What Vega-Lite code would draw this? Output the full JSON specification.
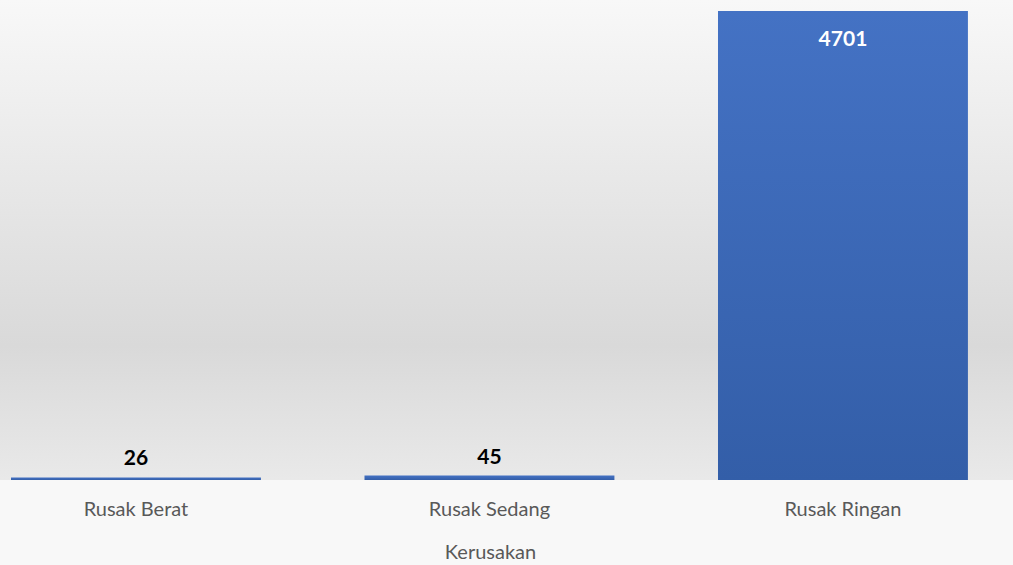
{
  "$schema": "https://vega.github.io/schema/vega-lite/v6.json",
  "width": 1013,
  "height": 480,
  "padding": {"left": 0, "top": 0, "right": 0, "bottom": 85},
  "autosize": {"type": "none"},
  "background": "#f8f8f8",
  "config": {
    "view": {"stroke": null},
    "font": "Lato"
  },
  "data": {
    "values": [
      {"Kerusakan": "Rusak Berat", "Jumlah": 26},
      {"Kerusakan": "Rusak Sedang", "Jumlah": 45},
      {"Kerusakan": "Rusak Ringan", "Jumlah": 4701}
    ]
  },
  "encoding": {
    "x": {
      "field": "Kerusakan",
      "type": "nominal",
      "sort": null,
      "scale": {"paddingInner": 0.293, "paddingOuter": 0.0793, "align": 0.196},
      "axis": {
        "domain": false,
        "ticks": false,
        "labelAngle": 0,
        "labelFont": "Lato",
        "labelFontSize": 20,
        "labelColor": "#595959",
        "labelPadding": 19,
        "title": "Kerusakan",
        "titleFont": "Lato",
        "titleFontSize": 20,
        "titleFontWeight": "normal",
        "titleColor": "#595959",
        "titlePadding": 23,
        "titleX": 490,
        "titleAlign": "center"
      }
    },
    "y": {
      "field": "Jumlah",
      "type": "quantitative",
      "scale": {"domain": [0, 4811], "nice": false},
      "axis": null
    }
  },
  "layer": [
    {
      "mark": {
        "type": "rect",
        "color": {
          "gradient": "linear",
          "x1": 0, "y1": 0, "x2": 0, "y2": 1,
          "stops": [
            {"offset": 0, "color": "#f8f8f8"},
            {"offset": 0.72, "color": "#d9d9d9"},
            {"offset": 1, "color": "#e9e9e9"}
          ]
        }
      },
      "encoding": {"x": null, "y": null}
    },
    {
      "mark": {
        "type": "bar",
        "color": {
          "gradient": "linear",
          "x1": 0, "y1": 0, "x2": 0, "y2": 1,
          "stops": [
            {"offset": 0, "color": "#4472c4"},
            {"offset": 1, "color": "#335ea8"}
          ]
        }
      }
    },
    {
      "transform": [{"filter": "datum.Jumlah < 1000"}],
      "mark": {"type": "text", "baseline": "bottom", "dy": -8, "fontSize": 21, "fontWeight": "bold", "color": "#000000", "font": "Lato"},
      "encoding": {"text": {"field": "Jumlah", "type": "quantitative"}}
    },
    {
      "transform": [{"filter": "datum.Jumlah >= 1000"}],
      "mark": {"type": "text", "baseline": "top", "dy": 18, "fontSize": 21, "fontWeight": "bold", "color": "#ffffff", "font": "Lato"},
      "encoding": {"text": {"field": "Jumlah", "type": "quantitative", "format": "d"}}
    }
  ]
}
